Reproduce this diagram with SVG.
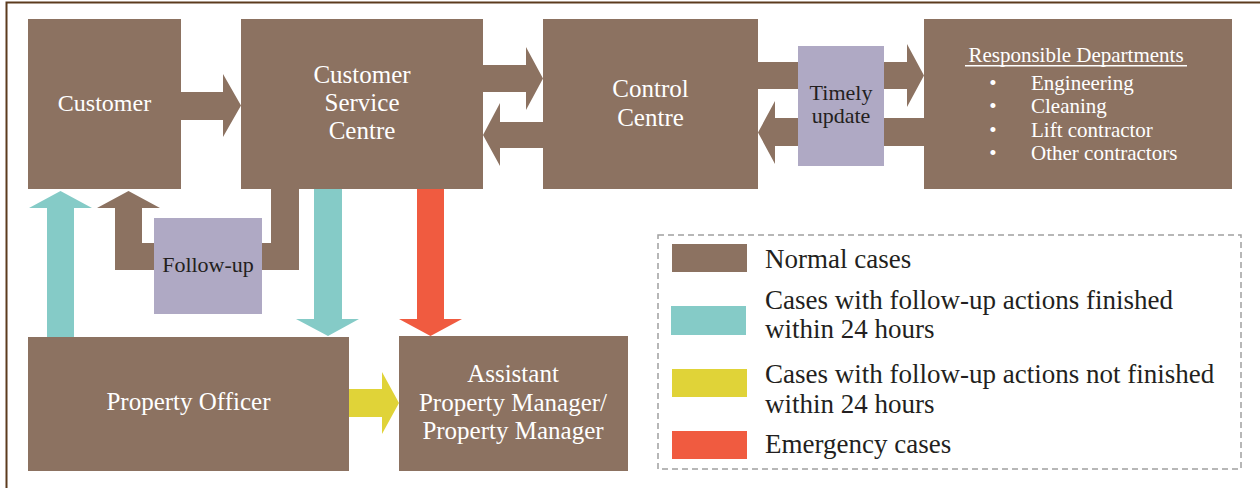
<svg xmlns="http://www.w3.org/2000/svg" width="1260" height="488" viewBox="0 0 1260 488">
<style>
.box{fill:#8C7261}
.br{fill:#8C7261}
.tl{fill:#85CBC7}
.rd{fill:#F05B40}
.yl{fill:#E0D338}
.lv{fill:#AFA9C4}
.wt{font-family:"Liberation Serif","DejaVu Serif",serif;fill:#FFFFFF;text-anchor:middle}
.dk{font-family:"Liberation Serif","DejaVu Serif",serif;fill:#231F20;text-anchor:middle}
.lg{font-family:"Liberation Serif","DejaVu Serif",serif;fill:#231F20;font-size:27px}
.dep{font-family:"Liberation Serif","DejaVu Serif",serif;fill:#FFFFFF;font-size:21px}
</style>
<rect x="0" y="0" width="1260" height="488" fill="#FFFFFF"/>
<rect x="6.5" y="2.5" width="1300" height="520" fill="none" stroke="#5C3B1E" stroke-width="2"/>

<g id="connectors">
  <polygon class="br" points="181,92 223,92 223,74 241,105.5 223,137 223,120 181,120"/>
  <polygon class="br" points="483,65 526,65 526,47 543,78.5 526,110 526,92 483,92"/>
  <polygon class="br" points="543,122 500,122 500,103 483,135 500,166 500,148 543,148"/>
  <polygon class="br" points="758,62 907,62 907,44 924,75.5 907,107 907,89 758,89"/>
  <polygon class="br" points="924,118 775,118 775,101 758,132.5 775,164 775,146 924,146"/>
  <polygon class="br" points="271,189 299,189 299,270 115,270 115,208 97,208 128.5,191 160,208 142,208 142,243 271,243"/>
  <polygon class="tl" points="47,337 47,208 29,208 60.5,191 92,208 74,208 74,337"/>
  <polygon class="tl" points="314,189 342,189 342,319 359,319 328,336 296,319 314,319"/>
  <polygon class="rd" points="417,189 444,189 444,319 462,319 430.5,336 399,319 417,319"/>
  <polygon class="yl" points="349,389 382,389 382,372 399,403 382,434 382,417 349,417"/>
</g>

<g id="customer">
  <rect class="box" x="28" y="19" width="153" height="170"/>
  <text class="wt" x="104.5" y="111" font-size="24">Customer</text>
</g>

<g id="csc">
  <rect class="box" x="241" y="19" width="242" height="170"/>
  <text class="wt" x="362" y="83" font-size="25">Customer</text>
  <text class="wt" x="362" y="111" font-size="25">Service</text>
  <text class="wt" x="362" y="139" font-size="25">Centre</text>
</g>

<g id="control">
  <rect class="box" x="543" y="19" width="215" height="170"/>
  <text class="wt" x="650.5" y="97" font-size="25">Control</text>
  <text class="wt" x="650.5" y="126" font-size="25">Centre</text>
</g>

<g id="timely">
  <rect class="lv" x="798" y="46" width="86" height="120"/>
  <text class="dk" x="841" y="100" font-size="22">Timely</text>
  <text class="dk" x="841" y="123" font-size="22">update</text>
</g>

<g id="departments">
  <rect class="box" x="924" y="19" width="308" height="170"/>
  <text class="dep" x="1076" y="62" text-anchor="middle">Responsible Departments</text>
  <rect x="965" y="65" width="222" height="1.5" fill="#FFFFFF"/>
  <text class="dep" x="993" y="90" text-anchor="middle">•</text>
  <text class="dep" x="1031" y="90">Engineering</text>
  <text class="dep" x="993" y="113" text-anchor="middle">•</text>
  <text class="dep" x="1031" y="113">Cleaning</text>
  <text class="dep" x="993" y="137" text-anchor="middle">•</text>
  <text class="dep" x="1031" y="137">Lift contractor</text>
  <text class="dep" x="993" y="160" text-anchor="middle">•</text>
  <text class="dep" x="1031" y="160">Other contractors</text>
</g>

<g id="followup">
  <rect class="lv" x="154" y="218" width="108" height="96"/>
  <text class="dk" x="208" y="272" font-size="22">Follow-up</text>
</g>

<g id="property-officer">
  <rect class="box" x="28" y="337" width="321" height="134"/>
  <text class="wt" x="188.5" y="410" font-size="25">Property Officer</text>
</g>

<g id="apm">
  <rect class="box" x="399" y="336" width="229" height="135"/>
  <text class="wt" x="513" y="382" font-size="25">Assistant</text>
  <text class="wt" x="513" y="411" font-size="25">Property Manager/</text>
  <text class="wt" x="513" y="439" font-size="25">Property Manager</text>
</g>

<g id="legend">
  <rect x="658" y="235" width="583" height="234" fill="none" stroke="#A0A0A0" stroke-width="1.5" stroke-dasharray="6 4"/>
  <rect class="br" x="672" y="244" width="75" height="28"/>
  <text class="lg" x="765" y="268">Normal cases</text>
  <rect class="tl" x="671" y="306" width="75" height="29"/>
  <text class="lg" x="765" y="309">Cases with follow-up actions finished</text>
  <text class="lg" x="765" y="338">within 24 hours</text>
  <rect class="yl" x="672" y="369" width="75" height="28"/>
  <text class="lg" x="765" y="383">Cases with follow-up actions not finished</text>
  <text class="lg" x="765" y="413">within 24 hours</text>
  <rect class="rd" x="672" y="431" width="75" height="28"/>
  <text class="lg" x="765" y="453">Emergency cases</text>
</g>
</svg>
